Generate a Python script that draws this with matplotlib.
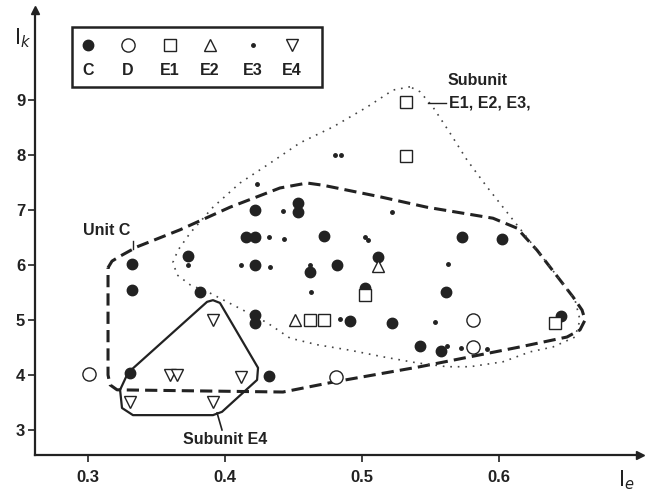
import matplotlib.pyplot as plt

plt.rcParams['font.family'] = ['Liberation Sans', 'DejaVu Sans']

# values (Ie, Ik)
c_x = [0.331, 0.332, 0.332, 0.373, 0.382, 0.415, 0.422, 0.422, 0.422, 0.422, 0.422,
       0.432, 0.453, 0.453, 0.472, 0.462, 0.482, 0.491, 0.502, 0.512, 0.522, 0.542,
       0.558, 0.561, 0.573, 0.602, 0.645]
c_y = [4.03, 5.55, 6.02, 6.16, 5.50, 6.50, 6.50, 7.00, 6.00, 5.09, 4.94,
       3.98, 7.13, 6.97, 6.52, 5.88, 6.00, 4.98, 5.58, 6.14, 4.95, 4.52,
       4.43, 5.50, 6.50, 6.47, 5.07]

d_x = [0.301, 0.481, 0.581, 0.581]
d_y = [4.02, 3.97, 5.00, 4.50]

e1_x = [0.532, 0.532, 0.462, 0.472, 0.502, 0.641]
e1_y = [8.97, 7.98, 5.00, 5.00, 5.45, 4.95]

e2_x = [0.451, 0.512]
e2_y = [5.00, 5.98]

e3_x = [0.423, 0.442, 0.432, 0.443, 0.412, 0.433, 0.480, 0.485, 0.502, 0.504,
        0.373, 0.522, 0.563, 0.463, 0.462, 0.484, 0.553, 0.562, 0.572, 0.591]
e3_y = [7.48, 6.99, 6.50, 6.47, 6.00, 5.97, 8.00, 8.00, 6.51, 6.45,
        6.00, 6.96, 6.01, 5.50, 6.00, 5.01, 4.96, 4.52, 4.49, 4.47]

e4_x = [0.391, 0.360, 0.365, 0.412, 0.331, 0.391]
e4_y = [5.00, 4.00, 4.00, 3.97, 3.50, 3.50]

# hand-drawn outlines
unit_c_x = [0.3146, 0.3175, 0.3234, 0.3358, 0.3672, 0.4036, 0.4401, 0.4599, 0.4715,
            0.5131, 0.5474, 0.5956, 0.6131, 0.6277, 0.6540, 0.6606, 0.6628, 0.6591,
            0.6496, 0.6153, 0.5788, 0.5423, 0.4788, 0.4423, 0.3818, 0.3212, 0.3161,
            0.3146, 0.3146]
unit_c_y = [5.95, 6.07, 6.16, 6.33, 6.64, 7.05, 7.40, 7.49, 7.45,
            7.24, 7.05, 6.85, 6.67, 6.27, 5.42, 5.18, 5.00, 4.82,
            4.69, 4.51, 4.33, 4.15, 3.87, 3.69, 3.71, 3.73, 3.82,
            4.00, 5.95]

sub_e123_x = [0.5350, 0.5226, 0.5036, 0.4788, 0.4547, 0.4328, 0.4109, 0.3912, 0.3745,
              0.3657, 0.3620, 0.3650, 0.3745, 0.3890, 0.4131, 0.4307, 0.4474, 0.4672,
              0.4912, 0.5153, 0.5401, 0.5620, 0.5788, 0.6029, 0.6226, 0.6394, 0.6555,
              0.6591, 0.6555, 0.6445, 0.6277, 0.6102, 0.5912, 0.5766, 0.5642, 0.5518,
              0.5423, 0.5350]
sub_e123_y = [9.24, 9.18, 8.87, 8.51, 8.22, 7.85, 7.49, 7.05, 6.58,
              6.27, 6.05, 5.82, 5.64, 5.49, 5.18, 4.95, 4.67, 4.55,
              4.45, 4.33, 4.22, 4.15, 4.15, 4.24, 4.42, 4.51, 4.69,
              5.00, 5.36, 5.73, 6.27, 6.82, 7.42, 7.91, 8.40, 8.87,
              9.15, 9.24]

sub_e4_x = [0.3234, 0.3292, 0.3869, 0.3912, 0.3963, 0.4241, 0.4234, 0.3978, 0.3912,
            0.3328, 0.3248, 0.3234]
sub_e4_y = [3.73, 4.04, 5.33, 5.36, 5.31, 4.13, 3.91, 3.33, 3.27,
            3.27, 3.40, 3.73]

x_ticks = [0.3, 0.4, 0.5, 0.6]
y_ticks = [3, 4, 5, 6, 7, 8, 9]

fig = plt.figure(figsize=(6.46, 4.94), dpi=100)
ax = fig.add_axes([35 / 646, 39 / 494, 605 / 646, 445 / 494])

ax.plot(unit_c_x, unit_c_y, color='#222222', lw=2.2, linestyle=(0, (4, 2)))
ax.plot(sub_e123_x, sub_e123_y, color='#444444', lw=1.2, linestyle=(0, (1, 3.5)))
ax.plot(sub_e4_x, sub_e4_y, color='#222222', lw=1.6)

ms = dict(linestyle='none', color='#222222')
ax.plot(e3_x, e3_y, 'o', markersize=2.5, **ms)
ax.plot(c_x, c_y, 'o', markersize=7.5, **ms)
ax.plot(d_x, d_y, 'o', markersize=9.5, mfc='white', mew=1.0, **ms)
ax.plot(e1_x, e1_y, 's', markersize=8.5, mfc='white', mew=1.0, **ms)
ax.plot(e2_x, e2_y, '^', markersize=8.5, mfc='white', mew=1.0, **ms)
ax.plot(e4_x, e4_y, 'v', markersize=8.5, mfc='white', mew=1.0, **ms)

# legend box (markers above labels)
ax.add_patch(plt.Rectangle((0.2883, 9.236), 0.1825, 1.091, fill=False,
                           lw=1.8, ec='#222222', zorder=3))
leg_x = [0.3, 0.3292, 0.3599, 0.3891, 0.4204, 0.4489]
leg_lab = ['C', 'D', 'E1', 'E2', 'E3', 'E4']
ax.plot(leg_x[0], 10.0, 'o', markersize=7.5, **ms)
ax.plot(leg_x[1], 10.0, 'o', markersize=9.5, mfc='white', mew=1.0, **ms)
ax.plot(leg_x[2], 10.0, 's', markersize=8.5, mfc='white', mew=1.0, **ms)
ax.plot(leg_x[3], 10.0, '^', markersize=8.5, mfc='white', mew=1.0, **ms)
ax.plot(leg_x[4], 10.0, 'o', markersize=2.5, **ms)
ax.plot(leg_x[5], 10.0, 'v', markersize=8.5, mfc='white', mew=1.0, **ms)
for lx, lab in zip(leg_x, leg_lab):
    ax.text(lx, 9.53, lab, ha='center', va='center', fontsize=11.5,
            fontweight='bold', color='#222222')

# annotations
ax.text(0.3139, 6.62, 'Unit C', ha='center', va='center', fontsize=11.5,
        fontweight='bold', color='#222222')
ax.plot([0.3328, 0.3328], [6.44, 6.29], color='#222222', lw=1)
ax.text(0.584, 9.35, 'Subunit', ha='center', va='center', fontsize=11.5,
        fontweight='bold', color='#222222')
ax.plot([0.5482, 0.5613], [8.945, 8.945], color='#222222', lw=1)
ax.text(0.5635, 8.945, 'E1, E2, E3,', ha='left', va='center', fontsize=11.5,
        fontweight='bold', color='#222222')
ax.text(0.40, 2.82, 'Subunit E4', ha='center', va='center', fontsize=11.5,
        fontweight='bold', color='#222222')
ax.plot([0.3942, 0.3978], [3.31, 3.0], color='#222222', lw=1.2)

ax.set_xlim(0.2613, 0.7029)
ax.set_ylim(2.545, 10.636)
ax.set_xticks(x_ticks)
ax.set_xticklabels([str(t) for t in x_ticks])
ax.set_yticks(y_ticks)
ax.tick_params(labelsize=12, width=1.2, length=5, color='#222222', labelcolor='#222222')
ax.tick_params(axis='x', pad=6)
ax.tick_params(axis='y', pad=2)
for lab in ax.get_xticklabels() + ax.get_yticklabels():
    lab.set_fontweight('bold')

for side in ['top', 'right']:
    ax.spines[side].set_visible(False)
for side in ['left', 'bottom']:
    ax.spines[side].set_linewidth(1.6)
    ax.spines[side].set_color('#222222')
ax.plot(1, 0, '>', color='#222222', markersize=6, transform=ax.transAxes, clip_on=False)
ax.plot(0, 1, '^', color='#222222', markersize=6, transform=ax.transAxes, clip_on=False)

fig.text(14 / 646, 1 - 38 / 494, r'$\mathrm{I}_k$', fontsize=15, ha='left', va='center',
         color='#222222')
fig.text(618 / 646, 1 - 480 / 494, r'$\mathrm{I}_e$', fontsize=15, ha='left', va='center',
         color='#222222')

fig.savefig('out.png', dpi=100)
